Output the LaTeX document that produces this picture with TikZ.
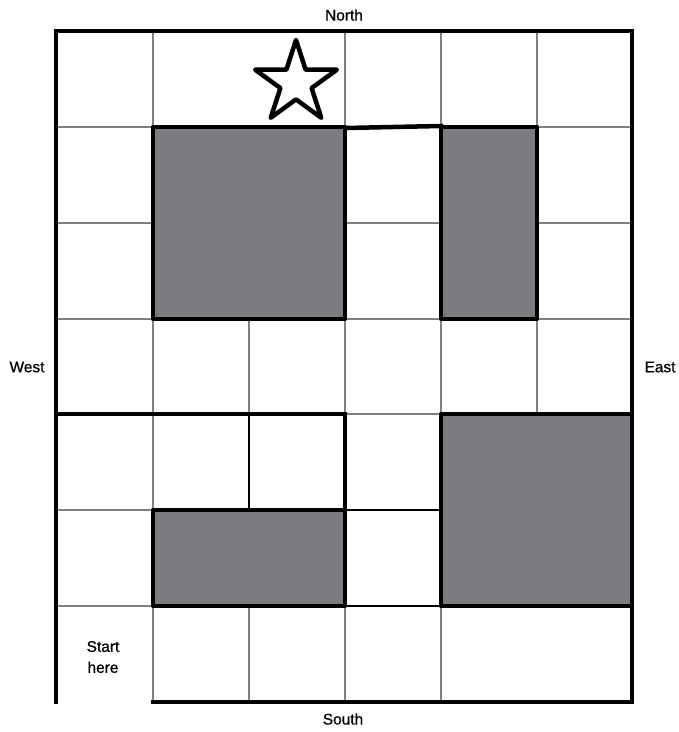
\documentclass[tikz,border=0pt]{standalone}
\usepackage{fontspec}
\setmainfont{Liberation Sans}
\newfontfamily\lblfont{Liberation Sans}[BoldFont={Liberation Sans}, BoldFeatures={FakeBold=0.8}]
\definecolor{blockgray}{RGB}{123,124,128}
\definecolor{gridgray}{RGB}{128,128,128}
\tikzset{
  gridline/.style={draw=gridgray, line width=1.5bp},
  darkline/.style={draw=black, line width=1.3bp},
  wall/.style={draw=black, line width=4.5bp, line cap=rect},
  block/.style={fill=blockgray, draw=black, line width=4.5bp, line join=round},
  lbl/.style={font=\lblfont\bfseries\fontsize{15.5}{21}\selectfont, inner sep=0pt, align=center},
  starline/.style={draw=black, line width=4.5bp, line join=round, fill=white}
}
\begin{document}
\begin{tikzpicture}[x=1bp, y=-1bp]
\useasboundingbox (0,0) rectangle (679,732);
% thin grid lines
\foreach \y in {127,223,319} {
  \draw[gridline] (56,\y) -- (153,\y);
  \draw[gridline] (537,\y) -- (632,\y);
}
\draw[gridline] (345,223) -- (441,223);
\draw[gridline] (345,319) -- (441,319);
\draw[gridline] (345,414) -- (441,414);
\draw[gridline] (56,510) -- (153,510);
\draw[gridline] (56,606) -- (153,606);
\draw[darkline] (345,510) -- (441,510);
\draw[darkline] (345,606) -- (441,606);
% vertical thin
\foreach \x in {153,345,441,537} \draw[gridline] (\x,31) -- (\x,127);
\foreach \x in {153,249,345,441,537} \draw[gridline] (\x,319) -- (\x,414);
\draw[gridline] (153,414) -- (153,510);
\draw[darkline] (249,414) -- (249,510);
\foreach \x in {153,249,345,441} \draw[gridline] (\x,606) -- (\x,702);
% blocks
\draw[block] (153,127) rectangle (345,319);
\draw[block] (441,127) rectangle (537,319);
\draw[block] (153,510) rectangle (345,606);
\draw[block] (441,414) rectangle (632,606);
% walls
\draw[wall] (56,702) -- (56,31) -- (632,31) -- (632,702) -- (153,702);
\draw[wall] (345,128) -- (441,126);
\draw[wall] (56,414) -- (345,414) -- (345,510);
% star
\draw[starline, shift={(296,83)}]
  (-90:43) -- (-54:16.4) -- (-18:43) -- (18:16.4) -- (54:43) -- (90:16.4)
  -- (126:43) -- (162:16.4) -- (198:43) -- (234:16.4) -- cycle;
% labels
\node[lbl] (north) at (344,15) {North};
\node[lbl] (south) at (343,719) {South};
\node[lbl] (west) at (27,367) {West};
\node[lbl] (east) at (660,367) {East};
\node[lbl] (start) at (103,657) {Start\\here};
\end{tikzpicture}
\end{document}
